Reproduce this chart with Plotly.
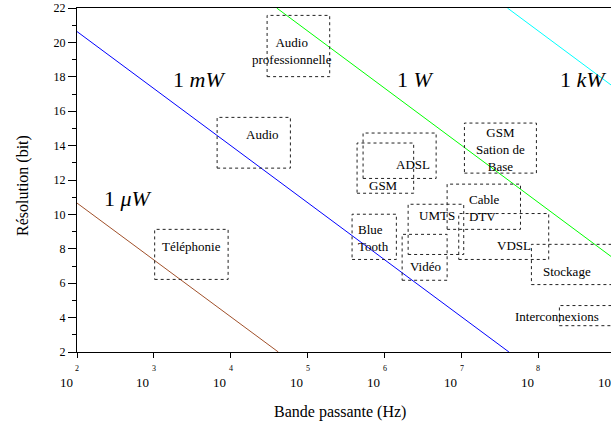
import numpy as np
import plotly.graph_objects as go

# ---- data ----
# iso-power lines: (bandwidth Hz, resolution bits) endpoints
power_labels = ["1 <i>μW</i>", "1 <i>mW</i>", "1 <i>W</i>", "1 <i>kW</i>"]
power_colors = ["#a0502a", "#0000ff", "#00ff00", "#00ffff"]
line_bw_start = [1e2, 1e2, 10**4.597, 10**7.597]
line_bw_end = [10**4.618, 10**7.617, 1e9, 1e9]
line_bits_start = [10.66, 20.63, 22.0, 22.0]
line_bits_end = [2.0, 2.0, 7.37, 17.34]
power_label_logbw = [2.668, 3.592, 6.401, 8.585]
power_label_bits = [10.94, 17.84, 17.84, 17.84]

# application domains: bandwidth range (log10 Hz) and resolution range (bits)
app_names = ["Audio<br>professionnelle", "Audio", "ADSL", "GSM",
             "GSM<br>Sation de<br>Base", "Cable<br>DTV", "UMTS", "Blue<br>Tooth",
             "Vidéo", "VDSL", "Stockage", "Interconnexions", "Téléphonie"]
app_logbw_lo = [4.472, 3.822, 5.720, 5.642, 7.038, 6.813, 6.306, 5.577, 6.228, 6.964, 7.909, 8.273, 3.010]
app_logbw_hi = [5.286, 4.775, 6.670, 6.378, 7.974, 7.767, 7.029, 6.153, 6.813, 8.134, 9.300, 9.300, 3.965]
app_bits_lo = [18.01, 12.69, 12.09, 11.23, 12.40, 9.13, 7.67, 7.38, 6.17, 7.38, 5.92, 3.53, 6.22]
app_bits_hi = [21.57, 15.64, 14.73, 14.15, 15.31, 11.76, 10.59, 10.01, 8.84, 10.05, 8.26, 4.70, 9.13]
app_label_logbw = [4.801, 4.407, 6.375, 5.981, 7.506, 7.298, 6.683, 5.854, 6.530, 7.679, 8.373, 8.243, 3.484]
app_label_bits = [19.51, 14.67, 12.88, 11.70, 13.80, 10.36, 9.91, 8.64, 6.99, 8.20, 6.66, 4.04, 8.12]
app_label_align = ["center", "center", "center", "center", "center", "left", "center", "left",
                   "center", "center", "center", "center", "center"]

x_exponents = [2, 3, 4, 5, 6, 7, 8, 9]
y_ticks = [2, 4, 6, 8, 10, 12, 14, 16, 18, 20, 22]

FONT = "Liberation Serif, Times New Roman, serif"
XMIN, XMAX = 2.0, 8.944

fig = go.Figure()

for i in range(len(power_labels)):
    fig.add_trace(go.Scatter(
        x=[line_bw_start[i], line_bw_end[i]],
        y=[line_bits_start[i], line_bits_end[i]],
        mode="lines", line=dict(color=power_colors[i], width=1),
        showlegend=False, hoverinfo="skip"))

annotations = []
for i, lab in enumerate(power_labels):
    annotations.append(dict(x=power_label_logbw[i], y=power_label_bits[i], xref="x", yref="y",
                            text=lab, showarrow=False,
                            font=dict(family=FONT, size=22, color="black")))

shapes = []
for i, name in enumerate(app_names):
    shapes.append(dict(type="rect", xref="x", yref="y",
                       x0=10**app_logbw_lo[i], x1=10**app_logbw_hi[i],
                       y0=app_bits_lo[i], y1=app_bits_hi[i],
                       line=dict(color="#222222", width=1, dash="3px,3px"),
                       fillcolor="rgba(0,0,0,0)"))
    annotations.append(dict(x=app_label_logbw[i], y=app_label_bits[i], xref="x", yref="y",
                            text=name, showarrow=False, align=app_label_align[i],
                            font=dict(family=FONT, size=13, color="black")))

# x tick labels "10" with exponent above (Scilab style); the last decade lies at the clipped right edge
for e in x_exponents:
    px = (e - XMIN) / (XMAX - XMIN)
    annotations.append(dict(x=px, y=0, xref="paper", yref="paper", text="10",
                            showarrow=False, xanchor="center", yanchor="middle",
                            xshift=-11, yshift=-30,
                            font=dict(family=FONT, size=13, color="black")))
    if px <= 1.0:
        annotations.append(dict(x=px, y=0, xref="paper", yref="paper", text=str(e),
                                showarrow=False, xanchor="center", yanchor="middle",
                                yshift=-16,
                                font=dict(family=FONT, size=8, color="black")))

annotations.append(dict(x=0.492, y=0, xref="paper", yref="paper", text="Bande passante (Hz)",
                        showarrow=False, xanchor="center", yanchor="middle", yshift=-60,
                        font=dict(family=FONT, size=16, color="black")))
annotations.append(dict(x=0, y=0.5, xref="paper", yref="paper", text="Résolution (bit)",
                        showarrow=False, xanchor="center", yanchor="middle", textangle=-90,
                        xshift=-54, yshift=-6,
                        font=dict(family=FONT, size=16, color="black")))

fig.update_layout(
    width=611, height=426,
    margin=dict(l=77, r=0, t=8, b=74, pad=0),
    paper_bgcolor="white", plot_bgcolor="white",
    showlegend=False,
    shapes=shapes, annotations=annotations,
    xaxis=dict(type="log", range=[XMIN, XMAX],
               tickvals=[10**e for e in x_exponents[:-1]],
               showticklabels=False, ticks="outside", ticklen=5, tickcolor="black",
               showline=True, linecolor="black", linewidth=1, mirror=True,
               showgrid=False, zeroline=False),
    yaxis=dict(range=[2, 22], tickvals=y_ticks,
               ticks="outside", ticklen=8, tickcolor="black",
               tickfont=dict(family=FONT, size=12, color="black"),
               minor=dict(dtick=1, tick0=0, ticks="outside", ticklen=4, tickcolor="black", showgrid=False),
               showline=True, linecolor="black", linewidth=1,
               showgrid=False, zeroline=False),
)

fig.write_html("out.html", config={"displayModeBar": False},
               post_script="document.body.style.margin='0px';document.body.style.overflow='hidden';")
